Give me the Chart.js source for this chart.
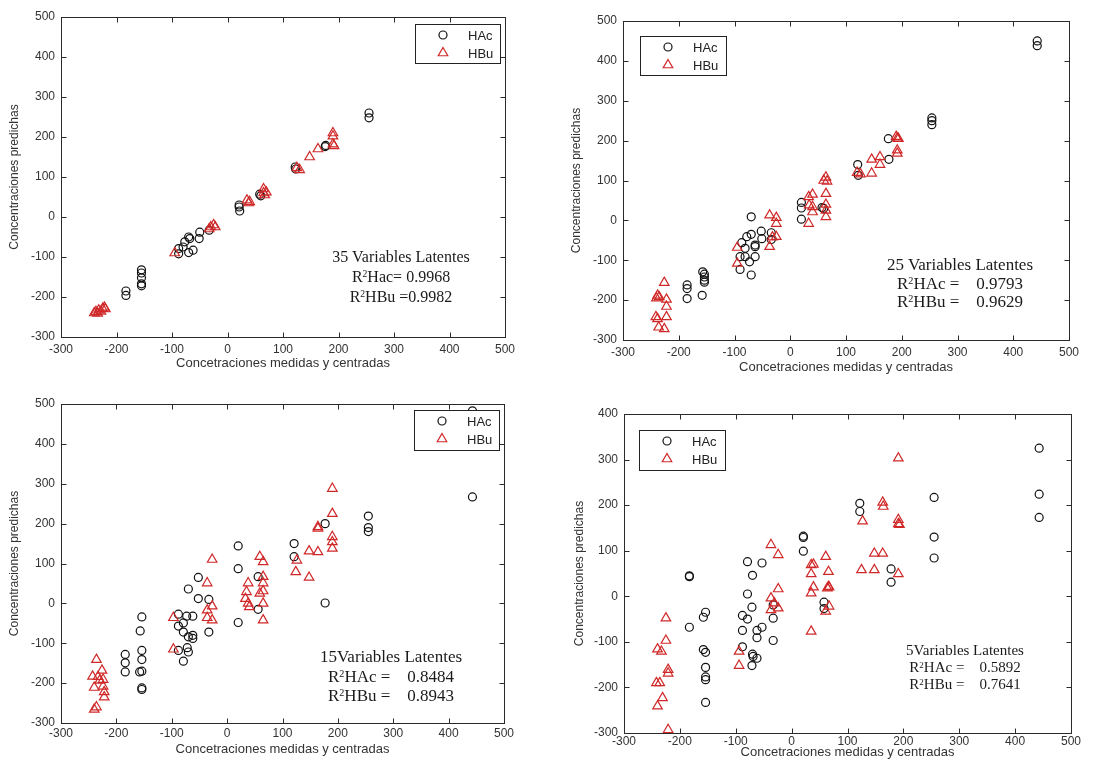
<!DOCTYPE html>
<html>
<head>
<meta charset="utf-8">
<script src="https://cdn.jsdelivr.net/npm/chart.js@4"></script>
<style>
  body { margin: 0; background: #fff; }
  #wrap { position: relative; width: 1097px; height: 767px; overflow: hidden; background: #fff; }
  canvas { position: absolute; }
  .note {
    position: absolute; width: 220px; text-align: center; white-space: pre;
    font-family: "Liberation Serif", "Times New Roman", serif; color: #1a1a1a;
  }
  .note sup { font-size: 0.6em; vertical-align: 0.5em; line-height: 0; }
</style>
</head>
<body>
<div id="wrap">
  <canvas id="c35"></canvas>
  <canvas id="c25"></canvas>
  <canvas id="c15"></canvas>
  <canvas id="c5"></canvas>

  <div class="note" style="left:291px; top:247px; font-size:16px; line-height:20px;">35 Variables Latentes
R<sup>2</sup>Hac= 0.9968
R<sup>2</sup>HBu =0.9982</div>
  <div class="note" style="left:850px; top:256px; font-size:17px; line-height:18.5px;">25 Variables Latentes
R<sup>2</sup>HAc =    0.9793
R<sup>2</sup>HBu =    0.9629</div>
  <div class="note" style="left:281px; top:647px; font-size:17px; line-height:19.5px;">15Variables Latentes
R<sup>2</sup>HAc =    0.8484
R<sup>2</sup>HBu =    0.8943</div>
  <div class="note" style="left:855px; top:642px; font-size:15px; line-height:17px;">5Variables Latentes
R<sup>2</sup>HAc =    0.5892
R<sup>2</sup>HBu =    0.7641</div>
</div>

<script>
// axis ticks shared by all four panels
const xTicks = [-300, -200, -100, 0, 100, 200, 300, 400, 500];
const seriesNames = ["HAc", "HBu"];

// 35 latent variables
const hac35X = [255, 255, 177, 176, 122, 123, 21, 21, 22, 58, 60, -33, -50, -51, -68, -70, -77, -80, -88, -88, -70, -62, -155, -155, -155, -155, -155, -183, -183];
const hac35Y = [260, 248, 179, 176, 125, 120, 30, 25, 15, 57, 53, -33, -38, -54, -54, -50, -62, -75, -79, -92, -89, -83, -132, -140, -152, -167, -172, -185, -196];
const hbu35X = [-237, -234, -232, -228, -225, -222, -220, -240, -95, -33, -30, -25, -22, 35, 38, 40, 65, 65, 67, 70, 125, 130, 148, 163, 190, 190, 190, 192];
const hbu35Y = [-237, -241, -233, -236, -229, -226, -230, -240, -90, -30, -25, -20, -25, 42, 35, 38, 70, 60, 55, 62, 123, 118, 150, 170, 210, 202, 182, 178];

// 25 latent variables
const hac25X = [443, 443, 254, 254, 254, 176, 177, 121, 122, 20, 20, 20, 57, 60, -70, -52, -34, -34, -78, -70, -63, -63, -51, -87, -81, -81, -63, -90, -73, -90, -70, -157, -154, -154, -154, -154, -158, -185, -185, -185];
const hac25Y = [450, 438, 257, 250, 240, 205, 153, 140, 113, 45, 31, 3, 32, 30, 9, -27, -31, -48, -41, -35, -62, -66, -46, -56, -70, -91, -91, -91, -104, -123, -137, -129, -135, -142, -150, -155, -188, -162, -171, -196];
const hbu25X = [-226, -238, -235, -240, -222, -222, -222, -241, -238, -236, -226, -95, -95, -37, -25, -25, -25, -37, -32, 33, 40, 33, 40, 40, 34, 64, 60, 66, 64, 64, 64, 64, 120, 126, 146, 146, 161, 161, 190, 192, 194, 192, 192];
const hbu25Y = [-156, -188, -192, -195, -198, -216, -242, -242, -247, -268, -272, -68, -108, 13, 7, -8, -41, -66, -42, 59, 65, -8, 34, 21, 38, 108, 100, 98, 67, 40, 25, 9, 120, 116, 118, 153, 159, 140, 210, 206, 205, 176, 168];

// 15 latent variables
const hac15X = [443, 443, 255, 255, 255, 177, 177, 121, 121, 20, 20, 20, 56, 56, -52, -52, -33, -33, -70, -73, -62, -88, -88, -79, -79, -70, -62, -62, -72, -70, -88, -79, -154, -157, -154, -154, -154, -158, -154, -154, -184, -184, -184];
const hac15Y = [483, 267, 219, 190, 180, 200, 1, 150, 117, 144, 87, -48, 67, -15, 65, 12, 10, -72, 36, -32, -32, -27, -57, -49, -72, -84, -80, -88, -111, -122, -118, -145, -34, -69, -118, -141, -170, -172, -212, -216, -128, -149, -172];
const hbu15X = [-236, -243, -233, -226, -224, -230, -224, -240, -222, -222, -236, -240, -97, -97, -36, -27, -27, -36, -27, -36, 35, 33, 38, 40, 38, 59, 65, 65, 65, 65, 65, 59, 65, 124, 126, 148, 148, 164, 164, 164, 190, 190, 190, 190, 190];
const hbu15Y = [-141, -183, -184, -168, -191, -193, -208, -211, -222, -235, -260, -266, -36, -115, 51, 110, -7, -17, -42, -36, 29, 12, 0, -9, 51, 117, 104, 67, 51, 31, 0, 25, -42, 79, 108, 65, 131, 188, 192, 129, 288, 225, 167, 154, 138];

// 5 latent variables
const hac5X = [443, 443, 443, 255, 255, 255, 178, 178, 122, 122, 21, 21, 21, 58, 58, -33, -33, -33, -53, -53, -79, -70, -79, -71, -79, -88, -88, -62, -62, -88, -70, -69, -62, -71, -183, -183, -183, -158, -154, -158, -154, -154, -154, -154, -154];
const hac5Y = [325, 224, 173, 217, 130, 84, 60, 31, 204, 186, 132, 129, 99, -13, -27, -19, -48, -97, 73, -68, 76, 46, 5, -24, -50, -42, -75, -75, -91, -111, -127, -132, -136, -152, 45, 43, -68, -46, -35, -117, -123, -156, -177, -183, -233];
const hbu5X = [-225, -225, -240, -233, -221, -221, -242, -236, -231, -240, -221, -94, -94, -37, -24, -24, -37, -37, -31, -24, 35, 39, 35, 39, 35, 35, 61, 66, 66, 64, 67, 67, 61, 125, 127, 148, 148, 163, 164, 163, 191, 191, 191, 193, 191];
const hbu5Y = [-48, -97, -116, -121, -161, -169, -190, -190, -223, -241, -293, -121, -152, 113, 91, 16, -4, -30, -15, -26, 69, 70, 49, 20, 7, -77, 87, 54, 21, 18, 20, -22, -33, 58, 165, 94, 58, 206, 197, 94, 303, 168, 159, 157, 49];

const HAC_COLOR = "#111111";
const HBU_COLOR = "#d02828";

// draws the closed box with inward tick marks (matlab style)
const frameTicks = {
  id: "frameTicks",
  beforeDatasetsDraw(chart) {
    const { ctx, chartArea: a, scales: { x, y } } = chart;
    const L = Math.round(a.left) + 0.5, R = Math.round(a.right) + 0.5;
    const T = Math.round(a.top) + 0.5, B = Math.round(a.bottom) + 0.5;
    ctx.save();
    ctx.strokeStyle = "#2a2a2a";
    ctx.lineWidth = 1;
    ctx.strokeRect(L, T, R - L, B - T);
    ctx.beginPath();
    x.ticks.forEach(t => {
      const px = Math.round(x.getPixelForValue(t.value)) + 0.5;
      ctx.moveTo(px, B); ctx.lineTo(px, B - 5);
      ctx.moveTo(px, T); ctx.lineTo(px, T + 5);
    });
    y.ticks.forEach(t => {
      const py = Math.round(y.getPixelForValue(t.value)) + 0.5;
      ctx.moveTo(L, py); ctx.lineTo(L + 5, py);
      ctx.moveTo(R, py); ctx.lineTo(R - 5, py);
    });
    ctx.stroke();
    ctx.restore();
  }
};

// boxed legend drawn inside the plot
const boxLegend = {
  id: "boxLegend",
  afterDraw(chart, args, opts) {
    const { ctx } = chart;
    const [bx, by, bw, bh] = opts.rect;
    ctx.save();
    ctx.fillStyle = "#fff";
    ctx.fillRect(bx, by, bw, bh);
    ctx.strokeStyle = "#222";
    ctx.lineWidth = 1;
    ctx.strokeRect(bx + 0.5, by + 0.5, bw, bh);
    ctx.font = "13px 'Liberation Sans', Arial, sans-serif";
    ctx.textBaseline = "middle";
    chart.data.datasets.slice().sort((a, b) => seriesNames.indexOf(a.label) - seriesNames.indexOf(b.label)).forEach((ds, i) => {
      const my = by + 11 + i * 18;
      ctx.strokeStyle = ds.borderColor;
      ctx.fillStyle = "rgba(0,0,0,0)";
      ctx.lineWidth = ds.pointBorderWidth;
      Chart.helpers.drawPoint(ctx, { pointStyle: ds.pointStyle, radius: ds.pointRadius, rotation: 0, borderWidth: ds.pointBorderWidth }, bx + 28, my);
      ctx.fillStyle = "#222";
      ctx.fillText(ds.label, bx + 53, my + 1);
    });
    ctx.restore();
  }
};

function toPoints(xs, ys) {
  return xs.map((x, i) => ({ x: x, y: ys[i] }));
}

function makePanel(id, box, plot, yTitleX, xTitleY, tickPad, yMin, yMax, legendRect, hacX, hacY, hbuX, hbuY) {
  const cv = document.getElementById(id);
  cv.width = box[2]; cv.height = box[3];
  cv.style.left = box[0] + "px"; cv.style.top = box[1] + "px";
  cv.style.width = box[2] + "px"; cv.style.height = box[3] + "px";

  const lh = 12 * 1.2;
  const xlh = 13 * 1.2;
  const yAxisW = plot[0] - box[0];
  const xAxisH = xTitleY - plot[3] + xlh / 2 + 3;
  const tickFont = { family: "'Liberation Sans', Arial, sans-serif", size: 12 };
  const xTitleFont = { family: "'Liberation Sans', Arial, sans-serif", size: 13 };

  return new Chart(cv.getContext("2d"), {
    type: "scatter",
    data: {
      datasets: [
        {
          label: "HAc", data: toPoints(hacX, hacY), order: 1,
          pointStyle: "circle", pointRadius: 4, pointBorderWidth: 1.2,
          borderColor: HAC_COLOR, backgroundColor: "rgba(0,0,0,0)",
          pointBorderColor: HAC_COLOR, pointBackgroundColor: "rgba(0,0,0,0)"
        },
        {
          label: "HBu", data: toPoints(hbuX, hbuY), order: 0,
          pointStyle: "triangle", pointRadius: 5.5, pointBorderWidth: 1.2,
          borderColor: HBU_COLOR, backgroundColor: "rgba(0,0,0,0)",
          pointBorderColor: HBU_COLOR, pointBackgroundColor: "rgba(0,0,0,0)"
        }
      ]
    },
    options: {
      responsive: false,
      animation: false,
      layout: {
        padding: {
          left: 0,
          top: plot[1] - box[1],
          right: box[0] + box[2] - plot[2],
          bottom: box[1] + box[3] - plot[3] - xAxisH
        }
      },
      plugins: {
        legend: { display: false },
        tooltip: { enabled: false },
        boxLegend: { rect: legendRect }
      },
      scales: {
        x: {
          type: "linear", min: -300, max: 500,
          afterBuildTicks: s => { s.ticks = xTicks.map(v => ({ value: v })); },
          afterFit: s => { s.height = xAxisH; },
          grid: { display: false, drawTicks: false },
          border: { display: false },
          ticks: { padding: tickPad, maxRotation: 0, autoSkip: false, color: "#333", font: tickFont },
          title: {
            display: true, text: "Concetraciones medidas y centradas", color: "#333",
            font: xTitleFont, padding: { top: 0, bottom: 3 }
          }
        },
        y: {
          type: "linear", min: yMin, max: yMax,
          ticks: { stepSize: 100, padding: 6, color: "#333", font: tickFont },
          afterFit: s => { s.width = yAxisW; },
          grid: { display: false, drawTicks: false },
          border: { display: false },
          title: {
            display: true, text: "Concentraciones predichas", color: "#333",
            font: tickFont, padding: { top: yTitleX - box[0] - lh / 2, bottom: 0 }
          }
        }
      }
    },
    plugins: [frameTicks, boxLegend]
  });
}

makePanel("c35", [0, 0, 548, 385], [61, 17, 505, 337], 15, 363, 5, -300, 500, [415, 24, 85, 39], hac35X, hac35Y, hbu35X, hbu35Y);
makePanel("c25", [548, 0, 549, 385], [623, 21, 1069, 340], 577, 367, 5, -300, 500, [92, 36, 86, 39], hac25X, hac25Y, hbu25X, hbu25Y);
makePanel("c15", [0, 385, 548, 382], [61, 404, 504, 723], 15, 749, 3, -300, 500, [414, 25, 85, 40], hac15X, hac15Y, hbu15X, hbu15Y);
makePanel("c5", [548, 385, 549, 382], [624, 414, 1071, 733], 580, 752, 1, -300, 400, [91, 45, 86, 40], hac5X, hac5Y, hbu5X, hbu5Y);
</script>
</body>
</html>
